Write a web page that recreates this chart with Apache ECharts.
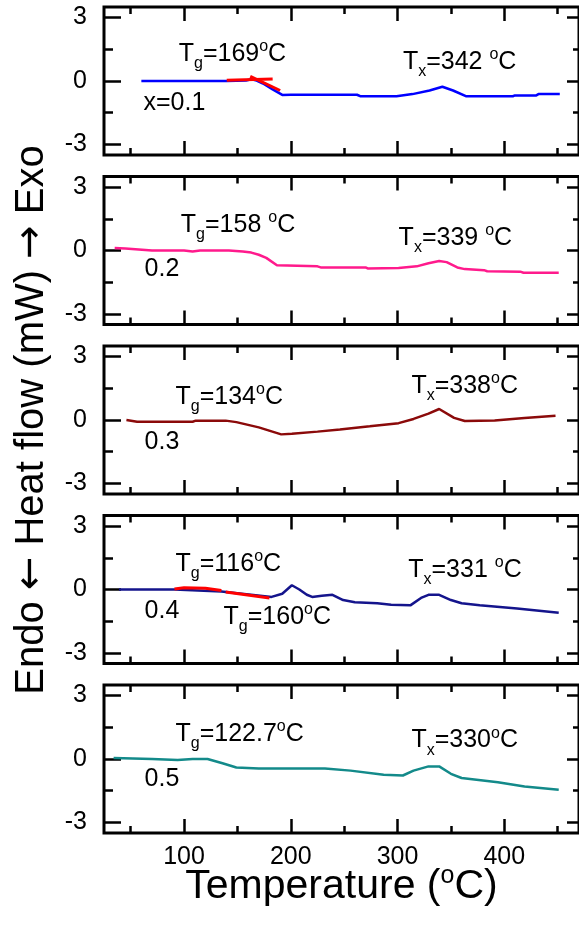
<!DOCTYPE html>
<html><head><meta charset="utf-8">
<script src="https://cdn.jsdelivr.net/npm/echarts@6/dist/echarts.min.js"></script>
<style>html,body{margin:0;padding:0;background:#fff}#c{width:579px;height:930px}</style>
</head><body><div id="c"></div>
<script>
// ---- axis ticks ----
const xTickValues = [100, 200, 300, 400];
const xMinorValues = [50, 150, 250, 350, 450];
const yTickValues = [-3, 0, 3];
const yMinorValues = [-1.5, 1.5];

// ---- DSC curves (temperature °C, heat flow mW) ----
const temp01 = [60, 140, 158, 163, 168, 174, 183, 192, 200, 262, 265, 299, 314, 330, 342, 352, 364, 408, 410, 430, 432, 452];
const flow01 = [0, 0, 0.02, 0.08, 0.02, -0.12, -0.4, -0.66, -0.65, -0.65, -0.72, -0.72, -0.62, -0.45, -0.27, -0.45, -0.72, -0.72, -0.68, -0.68, -0.62, -0.62];
const fitTempA01 = [140, 183];
const fitFlowA01 = [0.03, 0.1];
const fitTempB01 = [162, 190];
const fitFlowB01 = [0.22, -0.45];

const temp02 = [35, 45, 70, 100, 108, 115, 142, 155, 163, 170, 177, 187, 225, 228, 270, 272, 301, 318, 329, 339, 346, 356, 363, 381, 384, 415, 418, 451];
const flow02 = [0.12, 0.1, 0, 0, -0.05, 0, 0, -0.05, -0.1, -0.2, -0.35, -0.7, -0.75, -0.8, -0.8, -0.85, -0.83, -0.75, -0.6, -0.5, -0.55, -0.8, -0.88, -0.93, -0.98, -1.0, -1.05, -1.05];

const temp03 = [46, 56, 108, 111, 139, 149, 170, 191, 201, 225, 246, 274, 301, 315, 329, 339, 353, 363, 391, 419, 448];
const flow03 = [0, -0.08, -0.08, -0.03, -0.03, -0.1, -0.35, -0.68, -0.65, -0.55, -0.45, -0.3, -0.15, 0.05, 0.3, 0.52, 0.1, -0.05, -0.02, 0.1, 0.2];

const temp04 = [39, 91, 135, 182, 192, 201, 208, 215, 220, 229, 239, 249, 260, 281, 294, 312, 322, 329, 339, 350, 360, 377, 412, 451];
const flow04 = [0, 0, -0.1, -0.35, -0.2, 0.2, 0, -0.25, -0.35, -0.3, -0.25, -0.5, -0.6, -0.65, -0.72, -0.75, -0.4, -0.25, -0.25, -0.5, -0.65, -0.75, -0.9, -1.1];
const fitTempA04 = [91, 100, 120, 135];
const fitFlowA04 = [0.02, 0.08, 0.06, -0.05];
const fitTempB04 = [139, 180];
const fitFlowB04 = [-0.12, -0.4];

const temp05 = [34, 70, 94, 108, 122, 136, 149, 170, 201, 232, 256, 287, 305, 315, 329, 339, 350, 360, 394, 419, 451];
const flow05 = [0.05, 0, -0.05, 0, 0, -0.2, -0.4, -0.45, -0.45, -0.45, -0.55, -0.75, -0.78, -0.55, -0.35, -0.35, -0.7, -0.9, -1.1, -1.3, -1.45];

const curveTemps = [temp01, temp02, temp03, temp04, temp05];
const curveFlows = [flow01, flow02, flow03, flow04, flow05];
const curveColors = ['#0000ff', '#ff1a8c', '#8b0a0a', '#14148c', '#138a8a'];

// annotations: [panel, temperature, flow, rich text]
const notes = [
  [0, 95, 1.25, '{n|T}{s|g}{n|=169}{o|o}{n|C}'],
  [0, 62, -1.05, '{n|x=0.1}'],
  [0, 305, 0.9, '{n|T}{s|x}{n|=342 }{o|o}{n|C}'],
  [1, 97, 1.2, '{n|T}{s|g}{n|=158 }{o|o}{n|C}'],
  [1, 63, -0.9, '{n|0.2}'],
  [1, 301, 0.6, '{n|T}{s|x}{n|=339 }{o|o}{n|C}'],
  [2, 92, 1.06, '{n|T}{s|g}{n|=134}{o|o}{n|C}'],
  [2, 63, -1.05, '{n|0.3}'],
  [2, 313, 1.6, '{n|T}{s|x}{n|=338}{o|o}{n|C}'],
  [3, 92, 1.2, '{n|T}{s|g}{n|=116}{o|o}{n|C}'],
  [3, 63, -1.0, '{n|0.4}'],
  [3, 137, -1.3, '{n|T}{s|g}{n|=160}{o|o}{n|C}'],
  [3, 310, 0.9, '{n|T}{s|x}{n|=331 }{o|o}{n|C}'],
  [4, 92, 1.2, '{n|T}{s|g}{n|=122.7}{o|o}{n|C}'],
  [4, 63, -0.95, '{n|0.5}'],
  [4, 313, 0.87, '{n|T}{s|x}{n|=330}{o|o}{n|C}']
];

// ---- layout ----
const FONT = "'Liberation Sans', Arial, sans-serif";
const X_MIN = 25, X_MAX = 470, Y_MIN = -3.5, Y_MAX = 3.5;
const GRID_LEFT = 104, GRID_W = 476, GRID_TOP0 = 7, GRID_STEP = 169.5, GRID_H = 148;
const rich = {
  n: {fontSize: 25, fontFamily: FONT, color: '#000'},
  s: {fontSize: 16, fontFamily: FONT, color: '#000', padding: [19, 0, 0, 0]},
  o: {fontSize: 16, fontFamily: FONT, color: '#000', padding: [0, 0, 15, 0]}
};
const zip = (a, b) => a.map((v, i) => [v, b[i]]);

const grids = [], xAxes = [], yAxes = [], series = [];
for (let i = 0; i < 5; i++) {
  grids.push({left: GRID_LEFT, top: GRID_TOP0 + GRID_STEP * i, width: GRID_W, height: GRID_H,
    show: true, borderColor: '#000', borderWidth: 3, backgroundColor: 'transparent'});
  const last = i === 4;
  const xa = (pos, ticks, len, labels) => ({
    type: 'value', gridIndex: i, position: pos, min: X_MIN, max: X_MAX,
    axisLine: {show: false, onZero: false}, splitLine: {show: false},
    axisTick: {show: true, inside: true, length: len, customValues: ticks, lineStyle: {color: '#000', width: 2.5}},
    axisLabel: labels ? {show: true, customValues: labels, fontSize: 25, fontFamily: FONT, color: '#000', margin: 12} : {show: false}
  });
  const bottomMajor = xa('bottom', xTickValues, 14, last ? xTickValues : null);
  if (last) {
    bottomMajor.name = '{n|Temperature (}{o|o}{n|C)}';
    bottomMajor.nameLocation = 'middle';
    bottomMajor.nameGap = 31;
    bottomMajor.nameMoveOverlap = false;
    bottomMajor.nameTextStyle = {rich: {
      n: {fontSize: 41, fontFamily: FONT, color: '#000'},
      o: {fontSize: 25, fontFamily: FONT, color: '#000', padding: [0, 0, 20, 0]}
    }};
  }
  xAxes.push(bottomMajor, xa('bottom', xMinorValues, 7), xa('top', xTickValues, 14), xa('top', xMinorValues, 7));
  const ya = (pos, ticks, len, labels) => ({
    type: 'value', gridIndex: i, position: pos, min: Y_MIN, max: Y_MAX,
    axisLine: {show: false, onZero: false}, splitLine: {show: false},
    axisTick: {show: true, inside: true, length: len, customValues: ticks, lineStyle: {color: '#000', width: 2.5}},
    axisLabel: labels ? {show: true, customValues: labels, fontSize: 25, fontFamily: FONT, color: '#000', margin: 17} : {show: false}
  });
  const leftMajor = ya('left', yTickValues, 17, yTickValues);
  if (i === 2) {
    leftMajor.name = '{n|Endo }{a|\u2190}{n| Heat flow (mW) }{a|\u2192}{n| Exo}';
    leftMajor.nameLocation = 'middle';
    leftMajor.nameRotate = 90;
    leftMajor.nameGap = 52;
    leftMajor.nameMoveOverlap = false;
    leftMajor.nameTextStyle = {rich: {
      n: {fontSize: 40, fontFamily: FONT, color: '#000'},
      a: {fontSize: 40, fontFamily: "'DejaVu Sans', sans-serif", color: '#000'}
    }};
  }
  yAxes.push(leftMajor, ya('left', yMinorValues, 9), ya('right', yTickValues, 12), ya('right', yMinorValues, 6));

  series.push({type: 'line', xAxisIndex: 4 * i, yAxisIndex: 4 * i, data: zip(curveTemps[i], curveFlows[i]),
    showSymbol: false, symbol: 'none', lineStyle: {color: curveColors[i], width: 2.5}, z: 3});
}
const fitLine = (i, t, f) => ({type: 'line', xAxisIndex: 4 * i, yAxisIndex: 4 * i, data: zip(t, f),
  showSymbol: false, symbol: 'none', lineStyle: {color: '#ff0000', width: 3}, z: 4});
series.push(fitLine(0, fitTempA01, fitFlowA01), fitLine(0, fitTempB01, fitFlowB01),
  fitLine(3, fitTempA04, fitFlowA04), fitLine(3, fitTempB04, fitFlowB04));

for (let i = 0; i < 5; i++) {
  series.push({type: 'scatter', xAxisIndex: 4 * i, yAxisIndex: 4 * i, symbolSize: 0, silent: true,
    itemStyle: {opacity: 1},
    data: notes.filter(n => n[0] === i).map(n => ({value: [n[1], n[2]],
      label: {show: true, position: 'right', distance: 0, color: '#000', opacity: 1, formatter: n[3], rich: rich}}))});
}

const chart = echarts.init(document.getElementById('c'), null, {renderer: 'canvas'});
chart.setOption({animation: false, backgroundColor: '#fff', grid: grids, xAxis: xAxes, yAxis: yAxes, series: series});
</script></body></html>
